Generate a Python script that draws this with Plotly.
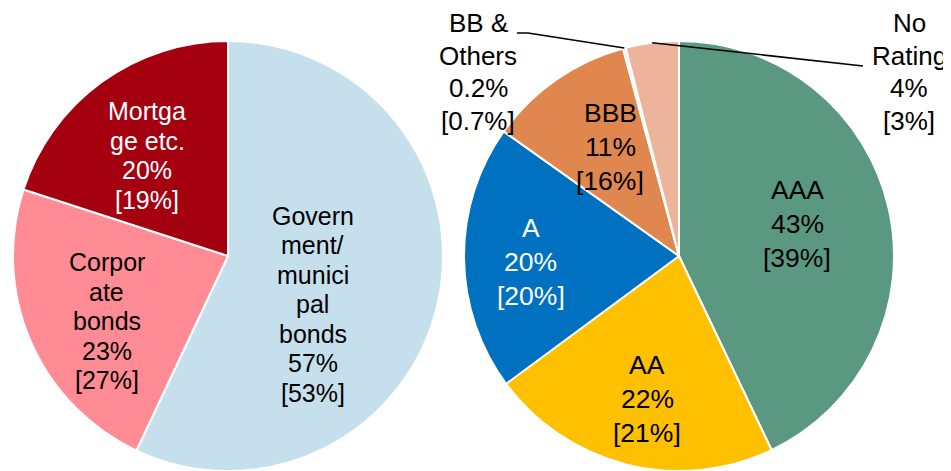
import math
import plotly.graph_objects as go

# ---------------- data ----------------
left_labels = ["Government/municipal bonds", "Corporate bonds", "Mortgage etc."]
left_names = [["Govern", "ment/", "munici", "pal", "bonds"], ["Corpor", "ate", "bonds"], ["Mortga", "ge etc."]]
left_values = [57, 23, 20]
left_prev = [53, 27, 19]

right_labels = ["AAA", "AA", "A", "BBB", "BB & Others", "No Rating"]
right_names = [["AAA"], ["AA"], ["A"], ["BBB"], ["BB &", "Others"], ["No", "Rating"]]
right_values = [43, 22, 20, 11, 0.2, 4]
right_prev = [39, 21, 20, 16, 0.7, 3]

# ---------------- style / layout ----------------
W, H = 951, 471          # browser window
OFF = 8                  # default page body margin
FW, FH = W - OFF, H - OFF
FONT = "Arial, Liberation Sans, sans-serif"
left_colors = ["#C5E0EC", "#FF8C94", "#A50010"]
right_colors = ["#5B9882", "#FFC000", "#0070C0", "#E0874F", "#D9D9D9", "#EDB49B"]
left_txtcol = ["black", "black", "white"]
right_txtcol = ["black", "black", "white", "black", "black", "black"]

R = 215
L_CX, CY = 228, 256      # window pixels
R_CX = 679

# label placement: (angle offset from slice mid-angle, fraction of radius)
left_place = [(16.9, 0.454), (-4.8, 0.64), (-2.7, 0.60)]
right_place = [(-2.4, 0.57), (-1.4, 0.68), (-1.8, 0.69), (2.7, 0.60), None, None]
outside_pos = {4: (478, 72), 5: (909, 72)}
leader_start = {4: [(517, 33), (528, 33)], 5: [(863, 66)]}
LEFT_SIZE, LEFT_GAP = 25, 29.5
RIGHT_SIZE, RIGHT_GAP = 26.5, 34
OUT_SIZE, OUT_GAP = 26, 32.5


def px(x):
    return (x - OFF) / FW


def py(y):
    return 1 - (y - OFF) / FH


def mid_angles(values):
    tot = sum(values)
    out, cum = [], 0
    for v in values:
        out.append((cum + v / 2) / tot * 360)
        cum += v
    return out


def polar(cx, ang, frac):
    a = math.radians(ang)
    return cx + frac * R * math.sin(a), CY - frac * R * math.cos(a)


def fmt(v):
    return f"{v:g}%"


fig = go.Figure()
for labels, values, colors, cx in [
    (left_labels, left_values, left_colors, L_CX),
    (right_labels, right_values, right_colors, R_CX),
]:
    fig.add_trace(go.Pie(
        labels=labels, values=values, sort=False, direction="clockwise",
        rotation=0, textinfo="none", hoverinfo="label+percent",
        marker=dict(colors=colors, line=dict(color="white", width=2)),
        domain=dict(x=[px(cx - R), px(cx + R)], y=[0, 2 * R / FH]),
        showlegend=False,
    ))

annotations = []
shapes = []


def add_block(lines, x, y, size, gap, color):
    n = len(lines)
    for k, t in enumerate(lines):
        yy = y + (k - (n - 1) / 2) * gap
        annotations.append(dict(
            x=px(x), y=py(yy), xref="paper", yref="paper", showarrow=False,
            xanchor="center", yanchor="middle", align="center", text=t,
            font=dict(family=FONT, size=size, color=color),
        ))


for i, m in enumerate(mid_angles(left_values)):
    off, fr = left_place[i]
    x, y = polar(L_CX, m + off, fr)
    lines = left_names[i] + [fmt(left_values[i]), f"[{fmt(left_prev[i])}]"]
    add_block(lines, x, y, LEFT_SIZE, LEFT_GAP, left_txtcol[i])

for i, m in enumerate(mid_angles(right_values)):
    lines = right_names[i] + [fmt(right_values[i]), f"[{fmt(right_prev[i])}]"]
    if right_place[i] is not None:
        off, fr = right_place[i]
        x, y = polar(R_CX, m + off, fr)
        add_block(lines, x, y, RIGHT_SIZE, RIGHT_GAP, right_txtcol[i])
    else:
        x, y = outside_pos[i]
        ex, ey = polar(R_CX, m, 1.0)
        pts = leader_start[i] + [(ex, ey)]
        path = "M " + " L ".join(f"{px(a):.5f},{py(b):.5f}" for a, b in pts)
        shapes.append(dict(type="path", path=path, xref="paper", yref="paper",
                           line=dict(color="black", width=1.6)))
        add_block(lines, x, y, OUT_SIZE, OUT_GAP, right_txtcol[i])

fig.update_layout(
    width=FW, height=FH, margin=dict(l=0, r=0, t=0, b=0),
    paper_bgcolor="white", plot_bgcolor="white",
    annotations=annotations, shapes=shapes, showlegend=False,
)
fig.write_html("out.html")
